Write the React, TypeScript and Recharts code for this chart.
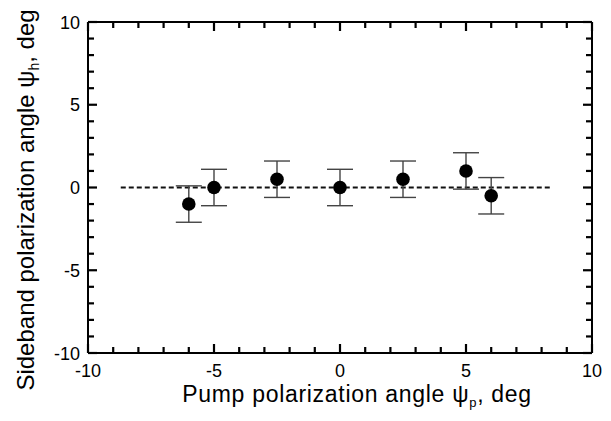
import { ComposedChart, Scatter, ErrorBar, XAxis, YAxis, ReferenceLine } from "recharts";

// measured points: pump angle vs sideband angle (deg)
const pumpAngle = [-6, -5, -2.5, 0, 2.5, 5, 6];
const sidebandAngle = [-1, 0, 0.5, 0, 0.5, 1, -0.5];
const angleError = [1.1, 1.1, 1.1, 1.1, 1.1, 1.1, 1.1];

// dashed guide at zero
const guideStart = -8.7;
const guideEnd = 8.4;
const guideLevel = 0;

const axisTicks = [-10, -9, -8, -7, -6, -5, -4, -3, -2, -1, 0, 1, 2, 3, 4, 5, 6, 7, 8, 9, 10];

const FONT = "'Liberation Sans', Arial, Helvetica, sans-serif";

const data = pumpAngle.map((x, i) => ({ x, y: sidebandAngle[i], err: angleError[i] }));

type Side = "bottom" | "left" | "top" | "right";

// inward ticks, long on multiples of 5; labels only on bottom/left
const makeTick = (side: Side) => (props: any) => {
  const { x, y, payload } = props;
  const v = Number(payload.value);
  const major = v % 5 === 0;
  const len = major ? 9 : 6;
  let x2 = x;
  let y2 = y;
  if (side === "bottom") y2 = y - len;
  if (side === "top") y2 = y + len;
  if (side === "left") x2 = x + len;
  if (side === "right") x2 = x - len;
  return (
    <g>
      <path d={`M${x},${y}L${x2},${y2}`} stroke="#000" strokeWidth={2.2} fill="none" />
      {major && side === "bottom" && (
        <text x={x} y={y + 24} textAnchor="middle" fontSize={18} fontFamily={FONT} fill="#000">
          {v}
        </text>
      )}
      {major && side === "left" && (
        <text x={x - 8} y={y + 6.5} textAnchor="end" fontSize={18} fontFamily={FONT} fill="#000">
          {v}
        </text>
      )}
    </g>
  );
};

const axisLine = { stroke: "#000", strokeWidth: 2 };

export default function App() {
  return (
    <div style={{ position: "absolute", left: 0, top: 0, width: 611, height: 421, background: "#fff" }}>
      <ComposedChart width={611} height={421} margin={{ top: 21, right: 18, bottom: 0, left: 0 }} data={data}>
        <XAxis
          dataKey="x"
          type="number"
          domain={[-10, 10]}
          ticks={axisTicks}
          interval={0}
          height={68}
          tickSize={0}
          tickMargin={0}
          tickLine={false}
          axisLine={axisLine}
          tick={makeTick("bottom")}
        />
        <XAxis
          xAxisId="top"
          dataKey="x"
          orientation="top"
          type="number"
          domain={[-10, 10]}
          ticks={axisTicks}
          interval={0}
          height={1}
          tickSize={0}
          tickMargin={0}
          tickLine={false}
          axisLine={axisLine}
          tick={makeTick("top")}
        />
        <YAxis
          dataKey="y"
          type="number"
          domain={[-10, 10]}
          ticks={axisTicks}
          interval={0}
          width={88}
          tickSize={0}
          tickMargin={0}
          tickLine={false}
          axisLine={axisLine}
          tick={makeTick("left")}
        />
        <YAxis
          yAxisId="right"
          dataKey="y"
          orientation="right"
          type="number"
          domain={[-10, 10]}
          ticks={axisTicks}
          interval={0}
          width={1}
          tickSize={0}
          tickMargin={0}
          tickLine={false}
          axisLine={axisLine}
          tick={makeTick("right")}
        />
        <ReferenceLine
          segment={[
            { x: guideStart, y: guideLevel },
            { x: guideEnd, y: guideLevel },
          ]}
          stroke="#111"
          strokeWidth={1.8}
          strokeDasharray="5 3"
        />
        {/* invisible series so the top/right frame axes get drawn */}
        <Scatter
          data={data}
          xAxisId="top"
          yAxisId="right"
          isAnimationActive={false}
          shape={() => <g />}
        />
        <Scatter
          data={data}
          isAnimationActive={false}
          shape={(p: any) => <circle cx={p.cx} cy={p.cy} r={6.8} fill="#000" />}
        >
          <ErrorBar dataKey="err" direction="y" width={13} stroke="#444" strokeWidth={1.4} isAnimationActive={false} />
        </Scatter>
      </ComposedChart>
      <svg width={611} height={421} style={{ position: "absolute", left: 0, top: 0, pointerEvents: "none" }}>
        <text x={357} y={402} textAnchor="middle" fontSize={23} letterSpacing={0.7} fontFamily={FONT} fill="#000">
          Pump polarization angle ψ
          <tspan fontSize={13} dy={5}>p</tspan>
          <tspan dy={-5}>, deg</tspan>
        </text>
        <text
          transform="translate(34,200) rotate(-90)"
          textAnchor="middle"
          fontSize={24}
          fontFamily={FONT}
          fill="#000"
        >
          Sideband polarization angle ψ
          <tspan fontSize={14} dy={5}>h</tspan>
          <tspan dy={-5}>, deg</tspan>
        </text>
      </svg>
    </div>
  );
}
